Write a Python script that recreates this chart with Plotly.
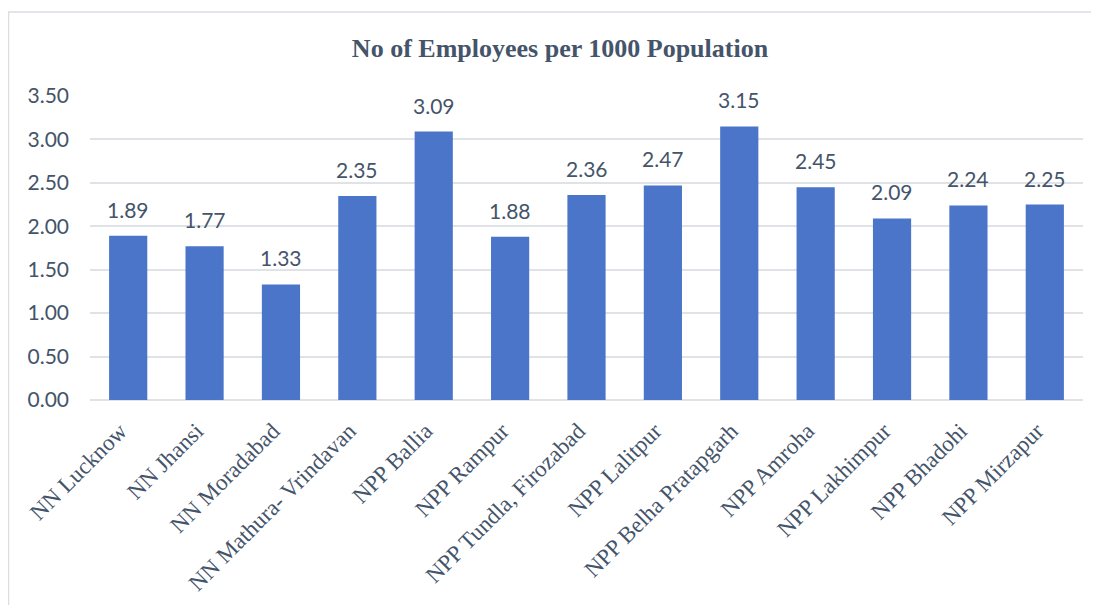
import plotly.graph_objects as go

categories = ["NN Lucknow", "NN Jhansi", "NN Moradabad", "NN Mathura- Vrindavan",
              "NPP Ballia", "NPP Rampur", "NPP Tundla, Firozabad", "NPP Lalitpur",
              "NPP Belha Pratapgarh", "NPP Amroha", "NPP Lakhimpur", "NPP Bhadohi",
              "NPP Mirzapur"]
values = [1.89, 1.77, 1.33, 2.35, 3.09, 1.88, 2.36, 2.47, 3.15, 2.45, 2.09, 2.24, 2.25]
y_ticks = [0, 0.5, 1.0, 1.5, 2.0, 2.5, 3.0, 3.5]

TXT = "#44546A"
GRID = "#DFE3E8"

# page body has an 8px margin; figure is sized to fit the window
W, H = 1091, 597
L, R, T, B = 82, 16, 88, 205
pw, ph = W - L - R, H - T - B

fig = go.Figure(go.Bar(
    x=categories, y=values,
    marker=dict(color="#4A75C9", line=dict(width=0)),
    width=0.5,
    hovertemplate="%{x}: %{y:.2f}<extra></extra>",
))

annotations = [
    dict(x=c, y=v, xref="x", yref="y", text=f"{v:.2f}", showarrow=False,
         yanchor="bottom", yshift=12,
         font=dict(family="Lato", size=21, color=TXT))
    for c, v in zip(categories, values)
]

fig.update_layout(
    width=W, height=H,
    margin=dict(l=L, r=R, t=T, b=B),
    paper_bgcolor="white", plot_bgcolor="white",
    showlegend=False,
    annotations=annotations,
    title=dict(text="<b>No of Employees per 1000 Population</b>",
               x=(560 - 8) / W, xanchor="center", xref="container",
               y=1 - (48 - 8) / H, yanchor="middle", yref="container",
               font=dict(family="Liberation Serif", size=26, color=TXT)),
    xaxis=dict(tickangle=-45, tickfont=dict(family="Liberation Serif", size=23, color=TXT),
               showgrid=False, showline=False, ticks="", ticklabelstandoff=12,
               ticklabelshift=-8, automargin=False),
    yaxis=dict(range=[0, 3.5], tickvals=y_ticks, tickformat=".2f",
               tickfont=dict(family="Lato", size=21, color=TXT),
               showgrid=True, gridcolor=GRID, gridwidth=1.5,
               zeroline=True, zerolinecolor=GRID, zerolinewidth=1.5,
               showline=False, ticks="", ticklabelstandoff=20, automargin=False),
    shapes=[dict(type="rect", xref="paper", yref="paper",
                 x0=(0.5 - L) / pw, x1=(W + 10 - L) / pw,
                 y0=(H - B - (H + 10)) / ph, y1=(H - B - 4) / ph,
                 line=dict(color="#D9DEE4", width=1.5), layer="below")],
)

fig.write_html("out.html")
